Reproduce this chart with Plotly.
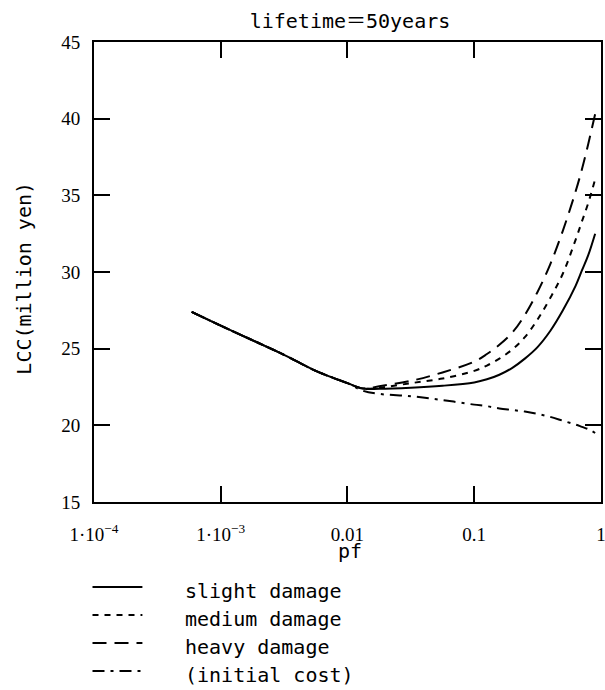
import plotly.graph_objects as go

# ---- data ----
pf = [5.9e-4, 1e-3, 1.78e-3, 3.16e-3, 5.62e-3, 0.01, 0.0133, 0.0178, 0.0316, 0.0562,
      0.1, 0.126, 0.158, 0.2, 0.251, 0.316, 0.398, 0.501, 0.631, 0.708, 0.794, 0.9]

slight_damage = [27.4, 26.5, 25.55, 24.6, 23.55, 22.75, 22.4, 22.38, 22.45, 22.58,
                 22.8, 23.0, 23.3, 23.75, 24.35, 25.1, 26.15, 27.5, 29.1, 30.1, 31.1, 32.5]
medium_damage = [27.4, 26.5, 25.55, 24.6, 23.55, 22.75, 22.4, 22.45, 22.75, 23.05,
                 23.55, 23.9, 24.35, 24.95, 25.75, 26.9, 28.3, 29.9, 32.1, 33.3, 34.5, 36.05]
heavy_damage = [27.4, 26.5, 25.55, 24.6, 23.55, 22.75, 22.4, 22.55, 22.9, 23.45,
                24.15, 24.65, 25.25, 26.05, 27.2, 28.7, 30.5, 32.7, 35.25, 36.7, 38.35, 40.3]
initial_cost = [27.4, 26.5, 25.55, 24.6, 23.55, 22.75, 22.25, 22.05, 21.9, 21.65,
                21.35, 21.25, 21.1, 21.0, 20.9, 20.75, 20.55, 20.3, 20.05, 19.9, 19.75, 19.5]

series_names = ["slight damage", "medium damage", "heavy damage", "(initial cost)"]
x_tickvals = [1e-4, 1e-3, 1e-2, 1e-1, 1]
x_ticktext = ["1\u00b710<sup>\u22124</sup>", "1\u00b710<sup>\u22123</sup>", "0.01", "0.1", "1"]
y_tickvals = [15, 20, 25, 30, 35, 40, 45]

# ---- styles ----
dashes = ["solid", "6px,6px", "14px,8px", "12px,6px,3px,6px"]
all_values = [slight_damage, medium_damage, heavy_damage, initial_cost]

W, H = 605, 690
L, R, T, B = 93.5, 3.5, 42, 188
pw, ph = W - L - R, H - T - B

def px(xp):
    return (xp - L) / pw

def py(yp):
    return (H - B - yp) / ph

mono = "DejaVu Sans Mono, Noto Sans CJK JP, monospace"
serif = "Liberation Serif, Times New Roman, serif"

fig = go.Figure()
for i in [3, 2, 1, 0]:
    fig.add_trace(go.Scatter(
        x=pf, y=all_values[i], mode="lines", name=series_names[i],
        line=dict(color="black", width=2, dash=dashes[i], shape="spline", smoothing=1.0),
        showlegend=False, hoverinfo="skip"))

axis_common = dict(
    ticks="inside", ticklen=16, tickwidth=2, tickcolor="black",
    showline=True, linewidth=2, linecolor="black", mirror="ticks",
    showgrid=False, zeroline=False, automargin=False, ticklabeloverflow="allow",
    tickfont=dict(family=serif, size=19, color="black"),
)

fig.update_layout(
    width=W, height=H,
    margin=dict(l=L, r=R, t=T, b=B, pad=0),
    paper_bgcolor="white", plot_bgcolor="white",
    title=dict(text="lifetime\uff1d50years", x=px(350), xref="paper", xanchor="center",
               y=1 - 21 / H, yref="container", yanchor="middle",
               font=dict(family=mono, size=20, color="black")),
    xaxis=dict(type="log", range=[-4, 0.0005], tickvals=x_tickvals, ticktext=x_ticktext,
               ticklabelstandoff=14, **axis_common),
    yaxis=dict(range=[15, 45], tickvals=y_tickvals, ticklabelstandoff=8, **axis_common),
    showlegend=False,
)

annotations = [
    dict(text="pf", x=px(350), y=py(551), xref="paper", yref="paper",
         xanchor="center", yanchor="middle", showarrow=False,
         font=dict(family=mono, size=20, color="black")),
    dict(text="LCC(million yen)", x=px(23), y=py(278), xref="paper", yref="paper",
         xanchor="center", yanchor="middle", textangle=-90, showarrow=False,
         font=dict(family=mono, size=20, color="black")),
]
shapes = []
row_y = [591, 619, 647, 675]
for i, name in enumerate(series_names):
    annotations.append(dict(text=name, x=px(183), y=py(row_y[i]), xref="paper", yref="paper",
                            xanchor="left", yanchor="middle", showarrow=False,
                            font=dict(family=mono, size=20, color="black")))
    shapes.append(dict(type="line", xref="paper", yref="paper",
                       x0=px(92), x1=px(142), y0=py(row_y[i] - 4), y1=py(row_y[i] - 4),
                       line=dict(color="black", width=2, dash=dashes[i])))

fig.update_layout(annotations=annotations, shapes=shapes)
fig.write_html("out.html")
